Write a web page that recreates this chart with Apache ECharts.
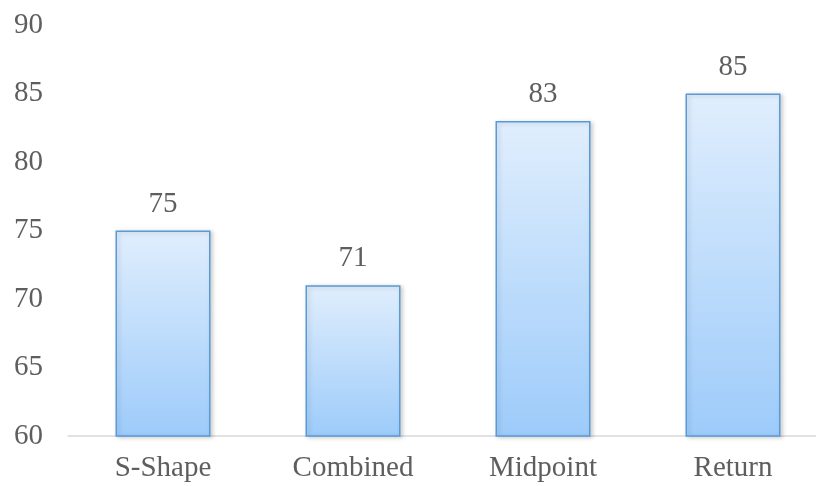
<!DOCTYPE html>
<html>
<head>
<meta charset="utf-8">
<script src="https://cdn.jsdelivr.net/npm/echarts@6/dist/echarts.min.js"></script>
<style>
  html, body { margin: 0; padding: 0; background: #ffffff; overflow: hidden; }
  #wrap { width: 816px; height: 486px; overflow: hidden; }
  #chart { width: 828px; height: 486px; }
</style>
</head>
<body>
<div id="wrap"><div id="chart"></div></div>
<script>
// Scores by method
const categories = ['S-Shape', 'Combined', 'Midpoint', 'Return'];
const scores = [75, 71, 83, 85];
const yMin = 60;
const yMax = 90;
const yStep = 5;

const FONT = '"Liberation Serif", "Times New Roman", serif';
const TEXT = '#5e5e5e';

const chart = echarts.init(document.getElementById('chart'), null, { renderer: 'canvas' });

chart.setOption({
  animation: false,
  backgroundColor: '#ffffff',
  grid: { left: 68, top: 25, right: 0, bottom: 50, containLabel: false },
  xAxis: {
    type: 'category',
    data: categories,
    axisLine: { show: true, lineStyle: { color: '#d9d9d9', width: 1.5 } },
    axisTick: { show: false },
    axisLabel: { color: TEXT, fontFamily: FONT, fontSize: 29, margin: 18 }
  },
  yAxis: {
    type: 'value',
    min: yMin,
    max: yMax,
    interval: yStep,
    axisLine: { show: false },
    axisTick: { show: false },
    splitLine: { show: false },
    axisLabel: { color: TEXT, fontFamily: FONT, fontSize: 29, margin: 25 }
  },
  series: [{
    type: 'bar',
    data: scores,
    barWidth: '50%',
    itemStyle: {
      color: new echarts.graphic.LinearGradient(0, 0, 0, 1, [
        { offset: 0, color: '#e0eefd' },
        { offset: 1, color: '#9dcbfa' }
      ]),
      borderColor: '#5b9bd5',
      borderWidth: 1.5,
      shadowColor: 'rgba(0,0,0,0.18)',
      shadowBlur: 4,
      shadowOffsetX: 2,
      shadowOffsetY: 1
    },
    label: {
      show: true,
      position: 'top',
      distance: 12,
      color: TEXT,
      fontFamily: FONT,
      fontSize: 29
    }
  }]
});
</script>
</body>
</html>
